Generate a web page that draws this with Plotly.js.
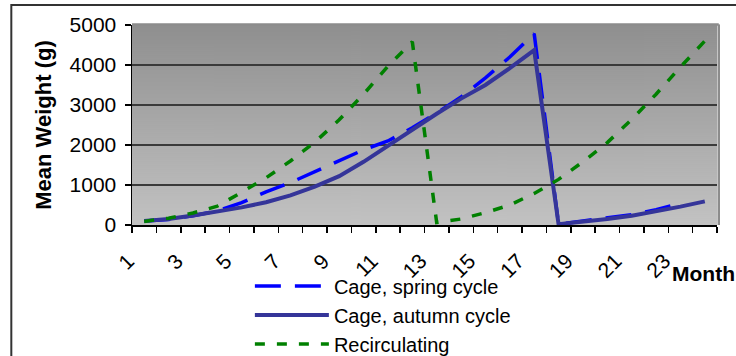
<!DOCTYPE html>
<html>
<head>
<meta charset="utf-8">
<script src="https://cdn.plot.ly/plotly-3.0.1.min.js"></script>
<style>html,body{margin:0;padding:0;background:#fff;}#chart{width:736px;height:356px;}</style>
</head>
<body>
<div id="chart"></div>
<script>
const months = [1,2,3,4,5,6,7,8,9,10,11,12,13,14,15,16,17,18,19,20,21,22,23,24];
const springCycle = [100,140,230,350,560,830,1060,1330,1620,1880,2100,2430,2800,3200,3680,4200,4780,20,100,170,260,380,540,null];
const autumnCycle = [100,150,240,330,440,570,740,960,1220,1580,1980,2400,2780,3160,3500,3920,4370,20,80,150,230,340,460,590];
const recirculating = [90,170,300,470,820,1180,1600,2070,2630,3270,3970,4580,60,150,310,500,790,1140,1580,2060,2640,3270,3950,4600];
const xTickVals = [1,3,5,7,9,11,13,15,17,19,21,23];
const xTickText = ['1','3','5','7','9','11','13','15','17','19','21','23'];
const yTickVals = [0,1000,2000,3000,4000,5000];
const seriesNames = ['Cage, spring cycle','Cage, autumn cycle','Recirculating'];

// gradient background for plot area
const cv = document.createElement('canvas');
cv.width = 4; cv.height = 200;
const ctx = cv.getContext('2d');
const g = ctx.createLinearGradient(0,0,0,200);
g.addColorStop(0,'#8f8f8f');
g.addColorStop(1,'#c2c2c2');
ctx.fillStyle = g; ctx.fillRect(0,0,4,200);
const bgURL = cv.toDataURL();

const FONT = '"Liberation Sans", Arial, sans-serif';

const traces = [
  {x: months, y: springCycle, name: seriesNames[0], type: 'scatter', mode: 'lines',
   line: {color: '#0000ff', width: 3.5, dash: '26px,14px'}},
  {x: months, y: autumnCycle, name: seriesNames[1], type: 'scatter', mode: 'lines',
   line: {color: '#353599', width: 4}},
  {x: months, y: recirculating, name: seriesNames[2], type: 'scatter', mode: 'lines',
   line: {color: '#008000', width: 3.5, dash: '10px,12px'}}
];

const layout = {
  width: 736, height: 356,
  margin: {l: 132, r: 19, t: 25, b: 131, autoexpand: false},
  paper_bgcolor: '#ffffff',
  plot_bgcolor: 'rgba(0,0,0,0)',
  font: {family: FONT, size: 21, color: '#000'},
  showlegend: true,
  legend: {
    x: 0.2015, y: -0.2075, xanchor: 'left', yanchor: 'top',
    bgcolor: 'rgba(0,0,0,0)', font: {family: FONT, size: 20, color: '#000'},
    tracegroupgap: 0, itemwidth: 74
  },
  xaxis: {
    type: 'linear', range: [0.5, 24.5], fixedrange: true, automargin: false,
    tickmode: 'array', tickvals: xTickVals, ticktext: xTickText,
    tickangle: -45, ticks: '', showgrid: false, zeroline: false,
    showline: true, linecolor: '#000', linewidth: 1.5,
    tickfont: {family: FONT, size: 21, color: '#000'},
    ticklabelstandoff: 14, ticklabelshift: -16,
    minor: {tick0: 0.5, dtick: 1, ticks: 'outside', ticklen: 6, tickcolor: '#000', tickwidth: 1.5, showgrid: false}
  },
  yaxis: {
    range: [0, 5000], fixedrange: true, automargin: false,
    tickmode: 'array', tickvals: yTickVals,
    ticks: 'outside', ticklen: 6, tickcolor: '#000', tickwidth: 1.5,
    showline: true, linecolor: '#000', linewidth: 1.5,
    showgrid: true, gridcolor: '#3a3a3a', gridwidth: 1.5, zeroline: false,
    tickfont: {family: FONT, size: 21, color: '#000'},
    ticklabelstandoff: 4,
    title: {text: 'Mean Weight (g)', font: {family: FONT, size: 22, color: '#000', weight: 'bold'}, standoff: 12}
  },
  images: [{source: bgURL, xref: 'paper', yref: 'paper', x: 0, y: 1, sizex: 1, sizey: 1,
            sizing: 'stretch', layer: 'below', xanchor: 'left', yanchor: 'top'}],
  shapes: [
    {type: 'rect', xref: 'paper', yref: 'paper', x0: -0.2063, x1: 1.5, y0: -2, y1: 1.1,
     line: {color: '#333', width: 2}, fillcolor: 'rgba(0,0,0,0)', layer: 'below'},
    {type: 'line', xref: 'paper', yref: 'paper', x0: 0, x1: 1.003, y0: 1.003, y1: 1.003,
     line: {color: '#8c8c8c', width: 2.5}, layer: 'above'},
    {type: 'line', xref: 'paper', yref: 'paper', x0: 1.003, x1: 1.003, y0: 0, y1: 1.003,
     line: {color: '#8c8c8c', width: 2.5}, layer: 'above'}
  ],
  annotations: [
    {text: '<b>Month</b>', xref: 'paper', yref: 'paper', x: 0.92, y: -0.175,
     xanchor: 'left', yanchor: 'top', showarrow: false,
     font: {family: FONT, size: 21, color: '#000'}}
  ]
};

Plotly.newPlot('chart', traces, layout, {displayModeBar: false, staticPlot: true});
</script>
</body>
</html>
